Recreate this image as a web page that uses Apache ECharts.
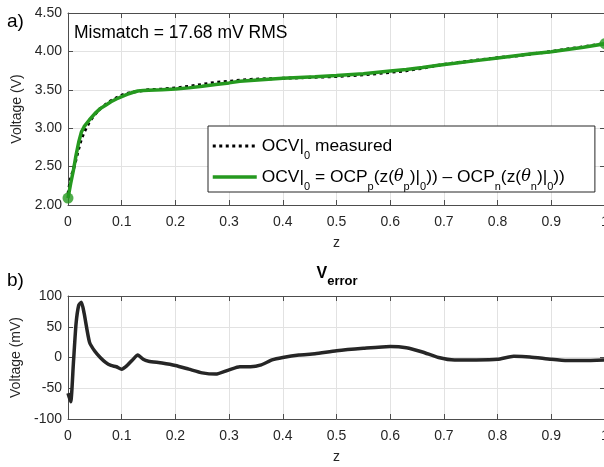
<!DOCTYPE html>
<html><head><meta charset="utf-8">
<script src="https://cdn.jsdelivr.net/npm/echarts@6/dist/echarts.min.js"></script>
<style>html,body{margin:0;padding:0;background:#fff;}#c{width:604px;height:467px;}</style>
</head><body><div id="c"></div>
<script>
// ---- data ----
const zValues = [0, 0.005, 0.01, 0.015, 0.02, 0.025, 0.03, 0.04, 0.05, 0.06, 0.07, 0.08, 0.09, 0.1,
  0.11, 0.12, 0.13, 0.14, 0.15, 0.175, 0.2, 0.225, 0.25, 0.275, 0.3, 0.32, 0.34, 0.36, 0.38, 0.4,
  0.43, 0.46, 0.5, 0.55, 0.6, 0.63, 0.66, 0.69, 0.72, 0.76, 0.8, 0.83, 0.86, 0.9, 0.93, 0.96, 1.0];
const ocvModel = [2.09, 2.28, 2.45, 2.65, 2.82, 2.95, 3.02, 3.11, 3.19, 3.255, 3.30, 3.345, 3.38, 3.41,
  3.44, 3.465, 3.485, 3.49, 3.495, 3.50, 3.51, 3.525, 3.545, 3.57, 3.59, 3.61, 3.62, 3.63, 3.64, 3.65,
  3.66, 3.67, 3.685, 3.71, 3.745, 3.765, 3.79, 3.82, 3.845, 3.88, 3.915, 3.94, 3.965, 3.995, 4.025, 4.055, 4.10];
const ocvMeasured = [2.148, 2.352, 2.46, 2.595, 2.735, 2.86, 2.948, 3.085, 3.18, 3.255, 3.308, 3.358, 3.395, 3.429,
  3.453, 3.469, 3.481, 3.493, 3.501, 3.509, 3.523, 3.544, 3.57, 3.597, 3.61, 3.625, 3.635, 3.642, 3.644, 3.65,
  3.656, 3.664, 3.674, 3.695, 3.727, 3.749, 3.781, 3.82, 3.849, 3.884, 3.918, 3.938, 3.964, 3.998, 4.03, 4.06, 4.104];
const errorMv = [-58, -72, -10, 55, 85, 90, 72, 25, 10, 0, -8, -13, -15, -19,
  -13, -4, 4, -3, -6, -9, -13, -19, -25, -27, -20, -15, -15, -12, -4, 0,
  4, 6, 11, 15, 18, 16, 9, 0, -4, -4, -3, 2, 1, -3, -5, -5, -4];
const endpointZ = [0, 1];
const endpointV = [2.09, 4.10];
const seriesNames = ['measured', 'model'];
const legendLabels = {
  measured: '{m|OCV|}{s|0}{m| measured}',
  model: '{m|OCV|}{s|0}{m| = OCP}{s|p}{m|(z(}{i|θ}{s|p}{m|)|}{s|0}{m|)) – OCP}{s|n}{m|(z(}{i|θ}{s|n}{m|)|}{s|0}{m|))}'
};
const topY = { min: 2, max: 4.5, interval: 0.5 };
const botY = { min: -100, max: 100, interval: 50 };
const xRange = { min: 0, max: 1, interval: 0.1 };
const mismatchText = 'Mismatch = 17.68 mV RMS';

// ---- styling ----
const FONT = "'Liberation Sans', Arial, Helvetica, sans-serif";
const TXT = '#262626';
const AX = '#4d4d4d';
const GRIDC = '#e2e2e2';
const GREEN = '#25991f';

const zip = (a, b) => a.map((v, i) => [v, b[i]]);

function xAx(gi, pos, show) {
  return {
    type: 'value', gridIndex: gi, position: pos, min: xRange.min, max: xRange.max, interval: xRange.interval,
    name: show ? 'z' : '', nameLocation: 'middle', nameGap: 31,
    nameTextStyle: { fontFamily: FONT, fontSize: 14, color: TXT },
    axisLine: { show: true, onZero: false, lineStyle: { color: AX, width: 1 } },
    axisTick: { show: true, inside: true, length: 5, lineStyle: { color: AX } },
    axisLabel: { show: show, margin: 10, fontFamily: FONT, fontSize: 14, color: TXT,
      formatter: v => String(+v.toFixed(1)) },
    splitLine: { show: show, lineStyle: { color: GRIDC, width: 1 } }
  };
}
function yAx(gi, pos, show, r, name, fmt) {
  return {
    type: 'value', gridIndex: gi, position: pos, min: r.min, max: r.max, interval: r.interval,
    name: show ? name : '', nameLocation: 'middle', nameGap: 34, nameRotate: 90,
    nameTextStyle: { fontFamily: FONT, fontSize: 14, color: TXT },
    axisLine: { show: true, onZero: false, lineStyle: { color: AX, width: 1 } },
    axisTick: { show: true, inside: true, length: 5, lineStyle: { color: AX } },
    axisLabel: { show: show, margin: 6, fontFamily: FONT, fontSize: 14, color: TXT, formatter: fmt },
    splitLine: { show: show, lineStyle: { color: GRIDC, width: 1 } }
  };
}

const chart = echarts.init(document.getElementById('c'), null, { renderer: 'canvas' });
chart.setOption({
  animation: false,
  backgroundColor: '#fff',
  grid: [
    { left: 68, top: 13, width: 537, height: 192, outerBoundsMode: 'none', containLabel: false },
    { left: 68, top: 296, width: 537, height: 123, outerBoundsMode: 'none', containLabel: false }
  ],
  xAxis: [xAx(0, 'bottom', true), xAx(0, 'top', false), xAx(1, 'bottom', true), xAx(1, 'top', false)],
  yAxis: [
    yAx(0, 'left', true, topY, 'Voltage (V)', v => v.toFixed(2)),
    yAx(0, 'right', false, topY, '', null),
    yAx(1, 'left', true, botY, 'Voltage (mV)', v => String(Math.round(v))),
    yAx(1, 'right', false, botY, '', null)
  ],
  legend: {
    data: [
      { name: seriesNames[0], lineStyle: { width: 3, type: [3, 3.5], color: '#000' } },
      { name: seriesNames[1], lineStyle: { width: 3.5, color: GREEN } }
    ],
    orient: 'vertical', left: 208, top: 126,
    backgroundColor: '#fff', borderColor: '#262626', borderWidth: 1, borderRadius: 0,
    padding: [5, 30, 0, 3], itemGap: 1, itemWidth: 44, itemHeight: 14,
    itemStyle: { opacity: 0 },
    formatter: name => legendLabels[name],
    textStyle: {
      fontFamily: FONT, fontSize: 17.4, color: '#000',
      rich: {
        m: { fontFamily: FONT, fontSize: 17.4, color: '#000', lineHeight: 20 },
        s: { fontFamily: FONT, fontSize: 11, color: '#000', lineHeight: 13, padding: [19, 0, 0, 0] },
        i: { fontFamily: "'DejaVu Serif', serif", fontStyle: 'italic', fontSize: 16, color: '#000', lineHeight: 20 }
      }
    }
  },
  series: [
    { name: 'measured', type: 'line', xAxisIndex: 0, yAxisIndex: 0, data: zip(zValues, ocvMeasured),
      symbol: 'none', lineStyle: { color: '#000', width: 3, type: [3, 3.5] }, itemStyle: { color: '#000' }, z: 2 },
    { name: 'model', type: 'line', xAxisIndex: 0, yAxisIndex: 0, data: zip(zValues, ocvModel),
      symbol: 'none', lineStyle: { color: GREEN, width: 3.5 }, itemStyle: { color: GREEN }, z: 3 },
    { name: 'ends', type: 'scatter', xAxisIndex: 0, yAxisIndex: 0, data: zip(endpointZ, endpointV),
      symbol: 'circle', symbolSize: 11, itemStyle: { color: GREEN }, z: 4, clip: false },
    { name: 'error', type: 'line', xAxisIndex: 2, yAxisIndex: 2, data: zip(zValues, errorMv),
      symbol: 'none', smooth: 0.2, lineStyle: { color: '#262626', width: 3.5 }, z: 3 }
  ],
  graphic: [
    { type: 'text', x: 7, y: 22, style: { text: 'a)', font: "19px " + FONT, fill: '#000', verticalAlign: 'middle' } },
    { type: 'text', x: 7, y: 281, style: { text: 'b)', font: "19px " + FONT, fill: '#000', verticalAlign: 'middle' } },
    { type: 'text', x: 74, y: 33, style: { text: mismatchText, font: "17.5px " + FONT, fill: '#000', verticalAlign: 'middle' }, z: 10 },
    { type: 'text', x: 337, y: 266, style: {
        text: '{v|V}{e|error}', align: 'center', verticalAlign: 'top',
        rich: {
          v: { fontFamily: FONT, fontSize: 16, fontWeight: 'bold', fill: '#000', lineHeight: 18, verticalAlign: 'top' },
          e: { fontFamily: FONT, fontSize: 13, fontWeight: 'bold', fill: '#000', lineHeight: 15, verticalAlign: 'top', padding: [9, 0, 0, 0] }
        } } }
  ]
});
</script></body></html>
